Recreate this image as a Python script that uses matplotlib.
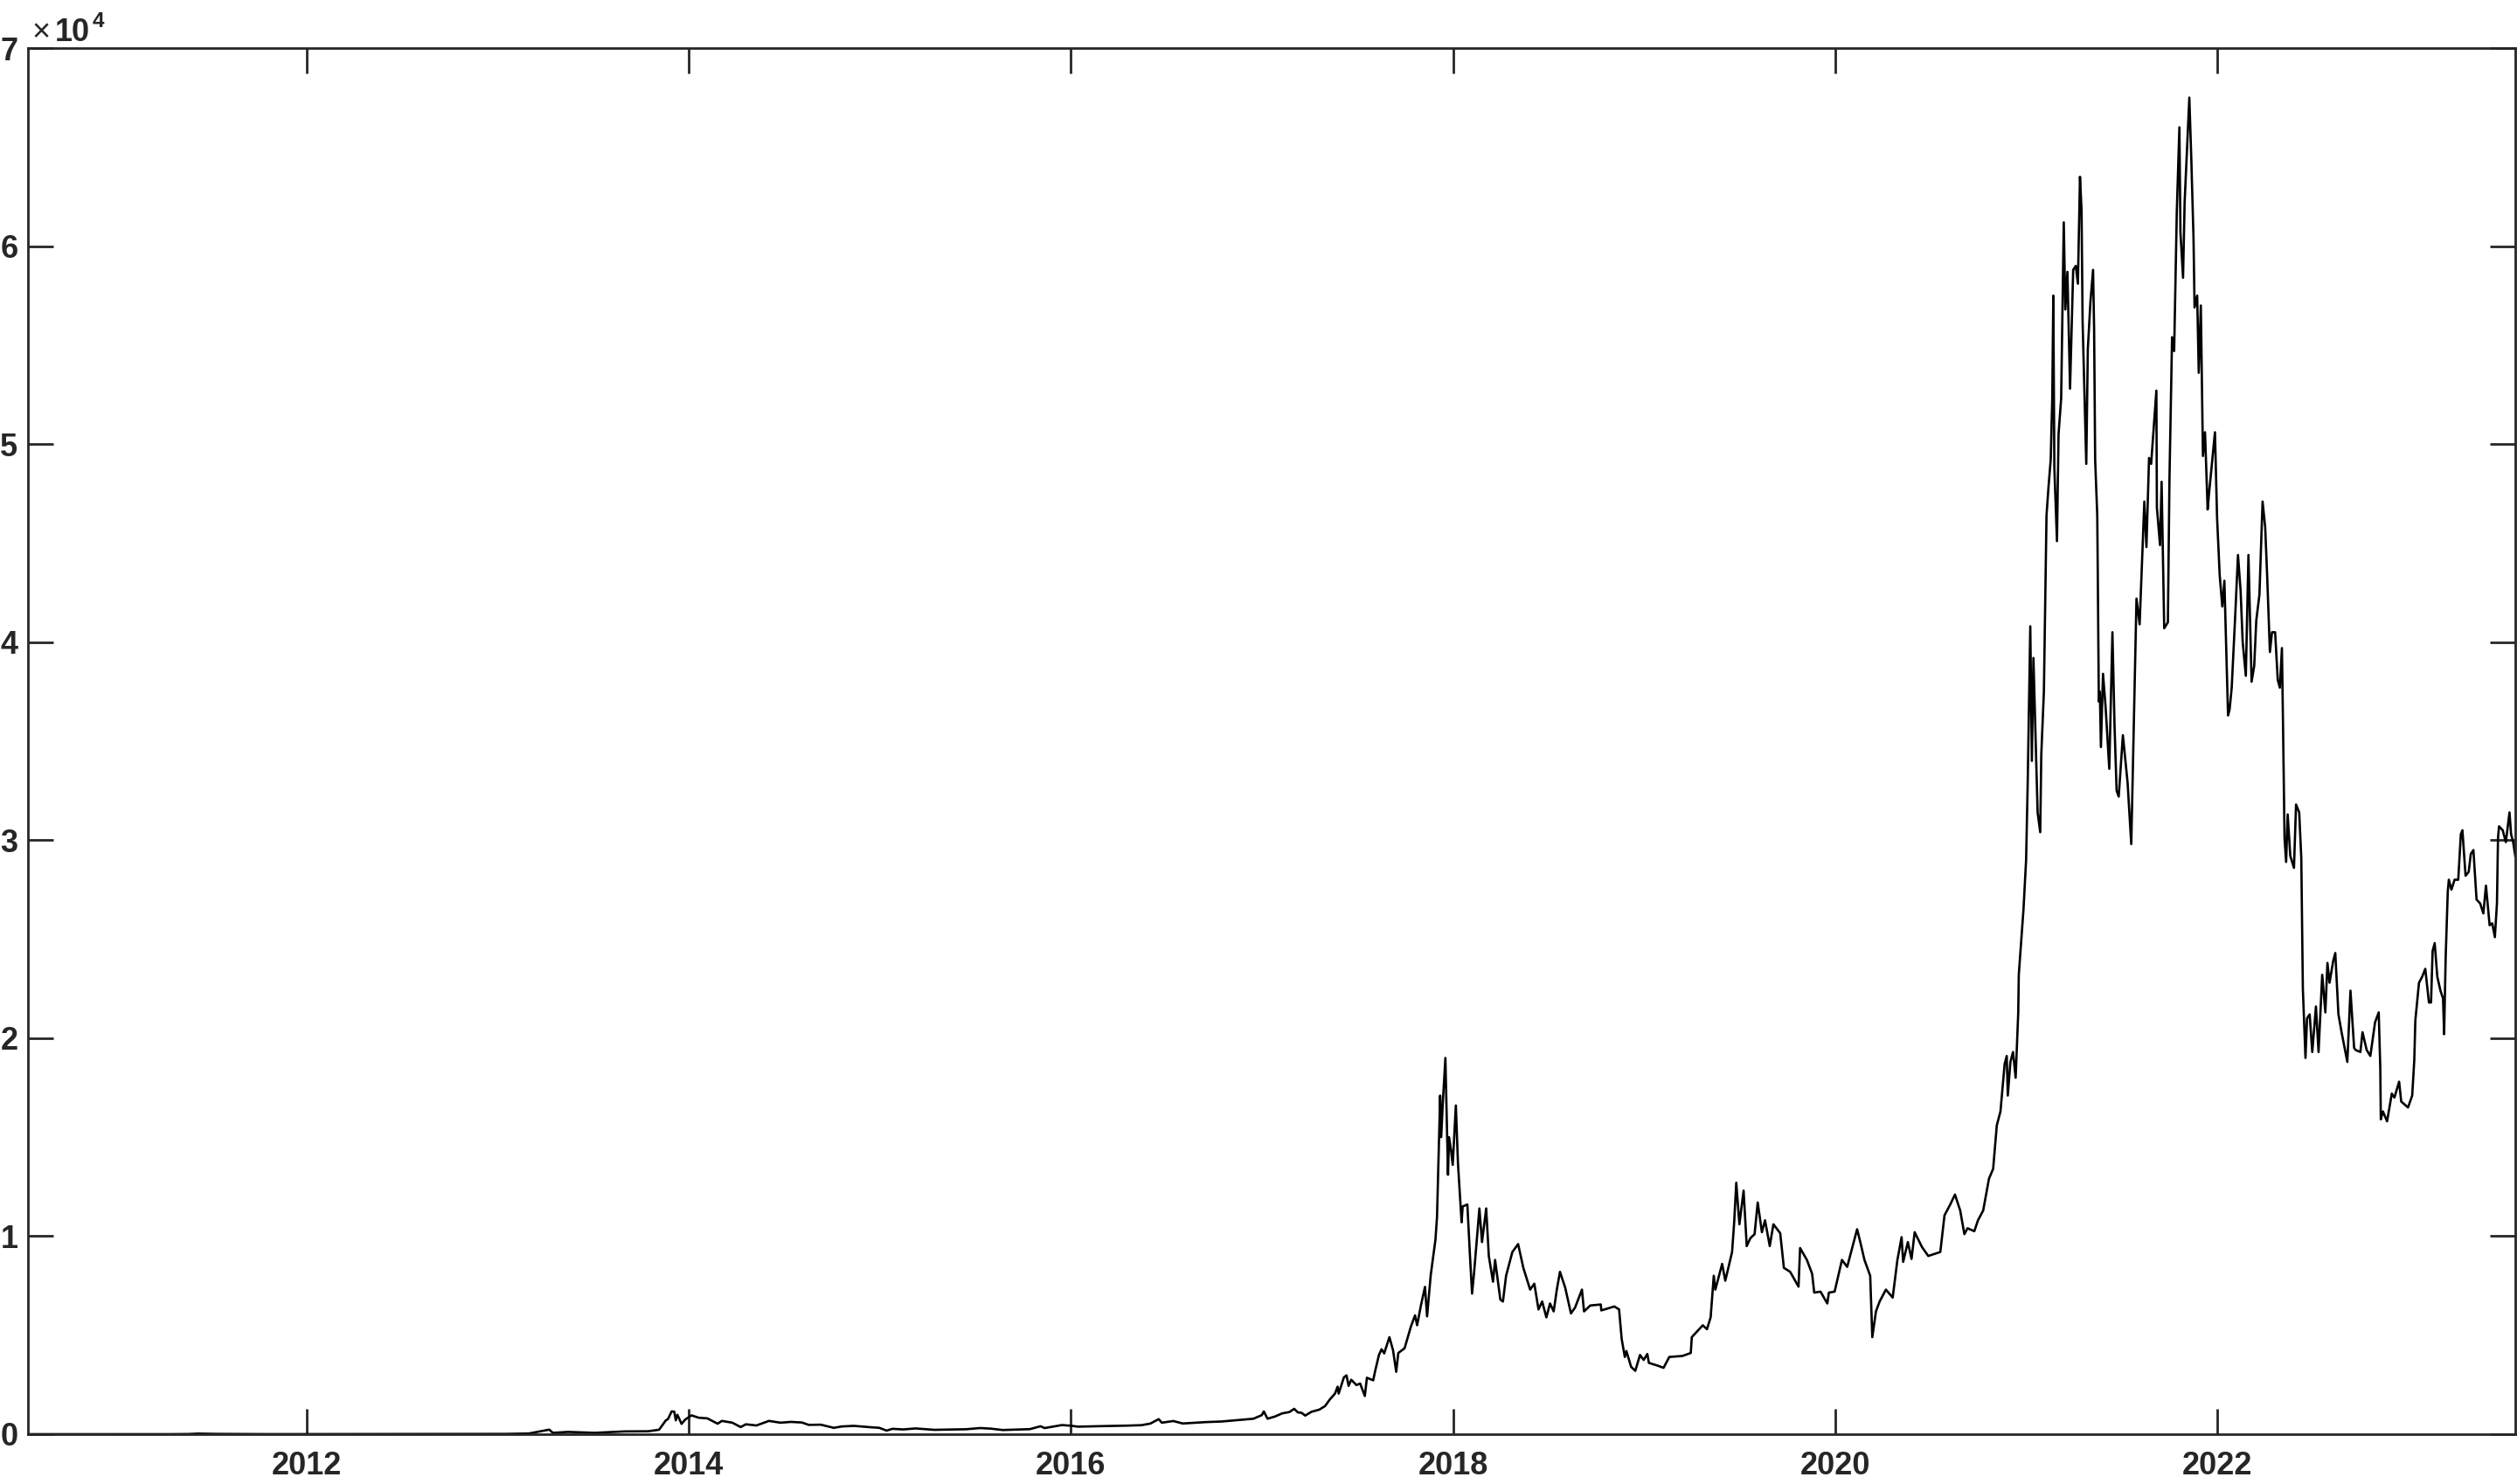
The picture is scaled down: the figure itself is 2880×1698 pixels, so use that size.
import numpy as np
import matplotlib
matplotlib.use('Agg')
import matplotlib.pyplot as plt
import matplotlib.dates as mdates

# Bitcoin close price (USD)
y2010 = [("2010-07-17", 0.05), ("2010-09-15", 0.06), ("2010-11-06", 0.39), ("2010-12-31", 0.30)]
y2011 = [("2011-02-10", 1.0), ("2011-04-15", 1.0), ("2011-05-20", 7), ("2011-06-08", 29.6),
         ("2011-07-15", 14), ("2011-09-01", 8), ("2011-10-20", 2.3), ("2011-12-31", 4.7)]
y2012 = [("2012-01-10", 6.8), ("2012-03-15", 4.8), ("2012-06-15", 6.5), ("2012-08-16", 13.5),
         ("2012-10-15", 11.8), ("2012-12-31", 13.5)]
y2013 = [("2013-01-15", 14), ("2013-03-01", 34), ("2013-04-09", 230), ("2013-04-16", 68),
         ("2013-05-15", 115), ("2013-07-05", 68), ("2013-08-31", 140), ("2013-10-15", 147),
         ("2013-11-05", 225), ("2013-11-18", 700), ("2013-11-22", 760), ("2013-11-29", 1150),
         ("2013-12-04", 1140), ("2013-12-07", 700), ("2013-12-10", 980), ("2013-12-18", 520),
         ("2013-12-25", 740)]
y2014 = [("2014-01-06", 950), ("2014-01-20", 830), ("2014-02-05", 800), ("2014-02-25", 530),
         ("2014-03-05", 670), ("2014-03-25", 580), ("2014-04-10", 360), ("2014-04-20", 500),
         ("2014-05-10", 440), ("2014-06-03", 670), ("2014-06-25", 580), ("2014-07-15", 620),
         ("2014-08-05", 590), ("2014-08-18", 470), ("2014-09-10", 480), ("2014-10-05", 320),
         ("2014-10-20", 390), ("2014-11-12", 420), ("2014-11-30", 380), ("2014-12-15", 350),
         ("2014-12-31", 320)]
y2015 = [("2015-01-14", 180), ("2015-01-25", 270), ("2015-02-15", 240), ("2015-03-10", 290),
         ("2015-04-15", 220), ("2015-05-15", 237), ("2015-06-15", 250), ("2015-07-12", 310),
         ("2015-08-01", 280), ("2015-08-24", 210), ("2015-09-15", 230), ("2015-10-15", 255),
         ("2015-11-04", 400), ("2015-11-12", 310), ("2015-12-15", 460), ("2015-12-31", 430)]
y2016 = [("2016-01-15", 380), ("2016-02-15", 400), ("2016-03-15", 415), ("2016-04-15", 430),
         ("2016-05-15", 455), ("2016-06-01", 535), ("2016-06-17", 760), ("2016-06-23", 580),
         ("2016-07-15", 665), ("2016-08-02", 540), ("2016-09-15", 610), ("2016-10-15", 640),
         ("2016-11-15", 710), ("2016-12-15", 780), ("2016-12-31", 960)]
y2017 = [("2017-01-04", 1150), ("2017-01-11", 780), ("2017-01-25", 890), ("2017-02-08", 1050),
         ("2017-02-22", 1120), ("2017-03-03", 1280), ("2017-03-10", 1100), ("2017-03-17", 1080),
         ("2017-03-24", 940), ("2017-04-05", 1130), ("2017-04-20", 1240), ("2017-05-01", 1420),
         ("2017-05-10", 1750), ("2017-05-20", 2050), ("2017-05-25", 2400), ("2017-05-27", 2050),
         ("2017-06-06", 2870), ("2017-06-11", 2970), ("2017-06-15", 2440), ("2017-06-20", 2750),
         ("2017-06-30", 2480), ("2017-07-07", 2560), ("2017-07-16", 1930), ("2017-07-20", 2850),
         ("2017-08-01", 2720), ("2017-08-05", 3220), ("2017-08-12", 4000), ("2017-08-17", 4290),
         ("2017-08-22", 4080), ("2017-09-01", 4900), ("2017-09-08", 4230), ("2017-09-14", 3150),
         ("2017-09-18", 4100), ("2017-09-30", 4340), ("2017-10-12", 5430), ("2017-10-20", 6000),
         ("2017-10-24", 5500), ("2017-10-31", 6470), ("2017-11-08", 7440), ("2017-11-12", 5950),
         ("2017-11-19", 8040), ("2017-11-28", 9820), ("2017-12-01", 10980), ("2017-12-07", 17100),
         ("2017-12-09", 15000), ("2017-12-12", 16700), ("2017-12-17", 19000), ("2017-12-22", 13100),
         ("2017-12-24", 15000), ("2017-12-28", 14300), ("2017-12-31", 13600)]
y2018 = [("2018-01-06", 16600), ("2018-01-10", 13700), ("2018-01-17", 10700), ("2018-01-19", 11500),
         ("2018-01-28", 11600), ("2018-02-02", 9000), ("2018-02-06", 7100), ("2018-02-10", 8200),
         ("2018-02-20", 11400), ("2018-02-25", 9700), ("2018-03-05", 11400), ("2018-03-10", 9000),
         ("2018-03-18", 7700), ("2018-03-22", 8800), ("2018-04-01", 6800), ("2018-04-06", 6700),
         ("2018-04-12", 8000), ("2018-04-24", 9200), ("2018-05-05", 9600), ("2018-05-15", 8400),
         ("2018-05-28", 7300), ("2018-06-05", 7600), ("2018-06-13", 6300), ("2018-06-20", 6700),
         ("2018-06-28", 5900), ("2018-07-05", 6600), ("2018-07-12", 6200), ("2018-07-18", 7300),
         ("2018-07-24", 8200), ("2018-08-03", 7400), ("2018-08-14", 6100), ("2018-08-22", 6400),
         ("2018-09-04", 7300), ("2018-09-08", 6200), ("2018-09-20", 6500), ("2018-10-10", 6550),
         ("2018-10-11", 6250), ("2018-11-05", 6450), ("2018-11-14", 6300), ("2018-11-19", 4800),
         ("2018-11-25", 3900), ("2018-11-28", 4200), ("2018-12-07", 3400), ("2018-12-15", 3200),
         ("2018-12-24", 4000), ("2018-12-31", 3750)]
y2019 = [("2019-01-07", 4050), ("2019-01-10", 3600), ("2019-01-28", 3450), ("2019-02-07", 3350),
         ("2019-02-18", 3900), ("2019-03-15", 3950), ("2019-03-31", 4100), ("2019-04-02", 4900),
         ("2019-04-23", 5500), ("2019-05-01", 5300), ("2019-05-08", 5900), ("2019-05-14", 8000),
         ("2019-05-17", 7300), ("2019-05-30", 8600), ("2019-06-05", 7750), ("2019-06-18", 9200),
         ("2019-06-22", 10700), ("2019-06-26", 12700), ("2019-07-02", 10600), ("2019-07-10", 12300),
         ("2019-07-16", 9500), ("2019-07-23", 9900), ("2019-07-31", 10100), ("2019-08-06", 11700),
         ("2019-08-14", 10200), ("2019-08-20", 10800), ("2019-08-29", 9500), ("2019-09-05", 10600),
         ("2019-09-18", 10150), ("2019-09-25", 8400), ("2019-10-07", 8200), ("2019-10-23", 7450),
         ("2019-10-26", 9400), ("2019-11-08", 8800), ("2019-11-18", 8100), ("2019-11-22", 7150),
         ("2019-12-04", 7200), ("2019-12-17", 6600), ("2019-12-20", 7150), ("2019-12-31", 7200)]
y2020 = [("2020-01-14", 8800), ("2020-01-24", 8450), ("2020-02-12", 10350), ("2020-02-19", 9600),
         ("2020-02-26", 8800), ("2020-03-08", 8000), ("2020-03-12", 4900), ("2020-03-19", 6200),
         ("2020-03-26", 6700), ("2020-04-07", 7300), ("2020-04-20", 6900), ("2020-04-29", 8800),
         ("2020-05-07", 9950), ("2020-05-10", 8700), ("2020-05-19", 9700), ("2020-05-26", 8850),
         ("2020-06-01", 10200), ("2020-06-15", 9450), ("2020-06-27", 9000), ("2020-07-20", 9200),
         ("2020-07-28", 11050), ("2020-08-08", 11600), ("2020-08-17", 12100), ("2020-08-27", 11300),
         ("2020-09-04", 10100), ("2020-09-10", 10400), ("2020-09-23", 10250), ("2020-09-30", 10800),
         ("2020-10-10", 11300), ("2020-10-21", 12900), ("2020-10-29", 13400), ("2020-11-05", 15600),
         ("2020-11-12", 16300), ("2020-11-20", 18700), ("2020-11-24", 19100), ("2020-11-26", 17100),
         ("2020-12-01", 18800), ("2020-12-06", 19300), ("2020-12-11", 18000), ("2020-12-16", 21300),
         ("2020-12-17", 23200), ("2020-12-26", 26500), ("2020-12-31", 29000)]
y2021 = [("2021-01-03", 32800), ("2021-01-08", 40800), ("2021-01-11", 34000), ("2021-01-14", 39200),
         ("2021-01-22", 31400), ("2021-01-27", 30400), ("2021-01-29", 34300), ("2021-02-03", 37500),
         ("2021-02-08", 46400), ("2021-02-12", 47900), ("2021-02-16", 49200), ("2021-02-19", 52300),
         ("2021-02-21", 57500), ("2021-02-23", 48800), ("2021-02-28", 45100), ("2021-03-03", 50500),
         ("2021-03-08", 52300), ("2021-03-13", 61200), ("2021-03-16", 56800), ("2021-03-20", 58700),
         ("2021-03-25", 52800), ("2021-03-31", 58800), ("2021-04-05", 59000), ("2021-04-09", 58100),
         ("2021-04-13", 63500), ("2021-04-16", 61800), ("2021-04-18", 56200), ("2021-04-25", 49000),
         ("2021-04-28", 54800), ("2021-05-03", 57200), ("2021-05-08", 58800), ("2021-05-10", 55800),
         ("2021-05-12", 49200), ("2021-05-16", 46400), ("2021-05-17", 43500), ("2021-05-19", 37000),
         ("2021-05-21", 37500), ("2021-05-23", 34700), ("2021-05-27", 38400), ("2021-06-01", 36700),
         ("2021-06-08", 33600), ("2021-06-14", 40500), ("2021-06-18", 35800), ("2021-06-22", 32500),
         ("2021-06-26", 32200), ("2021-07-04", 35300), ("2021-07-13", 32900), ("2021-07-20", 29800),
         ("2021-07-26", 37300), ("2021-07-30", 42200), ("2021-08-05", 40900), ("2021-08-14", 47100),
         ("2021-08-18", 44800), ("2021-08-23", 49300), ("2021-08-27", 49000), ("2021-09-06", 52700),
         ("2021-09-07", 46800), ("2021-09-13", 44900), ("2021-09-16", 48100), ("2021-09-21", 40700),
         ("2021-09-28", 41000), ("2021-10-01", 48200), ("2021-10-06", 55400), ("2021-10-10", 54700),
         ("2021-10-15", 61700), ("2021-10-20", 66000), ("2021-10-22", 60700), ("2021-10-27", 58400),
         ("2021-10-30", 62200), ("2021-11-08", 67500), ("2021-11-12", 64200), ("2021-11-16", 60400),
         ("2021-11-18", 56900), ("2021-11-23", 57500), ("2021-11-26", 53600), ("2021-11-30", 57000),
         ("2021-12-04", 49400), ("2021-12-08", 50600), ("2021-12-13", 46700), ("2021-12-16", 47600),
         ("2021-12-27", 50600), ("2021-12-31", 46300)]
y2022 = [("2022-01-05", 43400), ("2022-01-10", 41800), ("2022-01-14", 43100), ("2022-01-21", 36300),
         ("2022-01-24", 36600), ("2022-01-28", 37700), ("2022-02-04", 41500), ("2022-02-09", 44400),
         ("2022-02-14", 42600), ("2022-02-18", 40000), ("2022-02-24", 38300), ("2022-03-01", 44400),
         ("2022-03-07", 38000), ("2022-03-12", 38800), ("2022-03-16", 41100), ("2022-03-22", 42400),
         ("2022-03-28", 47100), ("2022-04-02", 45800), ("2022-04-06", 43200), ("2022-04-11", 39500),
         ("2022-04-15", 40500), ("2022-04-21", 40500), ("2022-04-26", 38100), ("2022-04-30", 37700),
         ("2022-05-04", 39700), ("2022-05-06", 36000), ("2022-05-09", 30100), ("2022-05-12", 28900),
         ("2022-05-15", 31300), ("2022-05-20", 29200), ("2022-05-27", 28600), ("2022-05-31", 31800),
         ("2022-06-06", 31400), ("2022-06-10", 29100), ("2022-06-13", 22500), ("2022-06-18", 19000),
         ("2022-06-21", 21000), ("2022-06-26", 21200), ("2022-07-01", 19300), ("2022-07-08", 21600),
         ("2022-07-13", 19300), ("2022-07-20", 23200), ("2022-07-26", 21300), ("2022-07-30", 23800),
         ("2022-08-03", 22800), ("2022-08-10", 23900), ("2022-08-14", 24300), ("2022-08-20", 21200),
         ("2022-08-26", 20300), ("2022-09-06", 18800), ("2022-09-12", 22400), ("2022-09-19", 19500),
         ("2022-09-22", 19400), ("2022-10-01", 19300), ("2022-10-05", 20300), ("2022-10-13", 19400),
         ("2022-10-20", 19100), ("2022-10-29", 20800), ("2022-11-05", 21300), ("2022-11-08", 18500),
         ("2022-11-09", 15900), ("2022-11-13", 16300), ("2022-11-21", 15800), ("2022-11-30", 17200),
         ("2022-12-05", 17000), ("2022-12-14", 17800), ("2022-12-18", 16800), ("2022-12-31", 16500)]
y2023 = [("2023-01-08", 17100), ("2023-01-12", 18900), ("2023-01-14", 20900), ("2023-01-21", 22800),
         ("2023-01-27", 23100), ("2023-02-02", 23500), ("2023-02-09", 21800), ("2023-02-13", 21800),
         ("2023-02-16", 24400), ("2023-02-20", 24800), ("2023-02-25", 23100), ("2023-03-03", 22400),
         ("2023-03-08", 22000), ("2023-03-10", 20200), ("2023-03-13", 24100), ("2023-03-17", 27400),
         ("2023-03-19", 28000), ("2023-03-24", 27500), ("2023-03-30", 28000), ("2023-04-06", 28000),
         ("2023-04-11", 30300), ("2023-04-14", 30500), ("2023-04-20", 28200), ("2023-04-26", 28400),
         ("2023-04-30", 29300), ("2023-05-05", 29500), ("2023-05-11", 27000), ("2023-05-18", 26800),
         ("2023-05-24", 26300), ("2023-05-29", 27700), ("2023-06-05", 25700), ("2023-06-10", 25800),
         ("2023-06-15", 25100), ("2023-06-19", 26800), ("2023-06-21", 30100), ("2023-06-23", 30700),
         ("2023-06-30", 30500), ("2023-07-06", 29900), ("2023-07-13", 31400), ("2023-07-16", 30300),
         ("2023-07-20", 29900), ("2023-07-24", 29200)]

year_ticks = [2012, 2014, 2016, 2018, 2020, 2022]
y_ticks = [0, 10000, 20000, 30000, 40000, 50000, 60000, 70000]
y_tick_labels = ['0', '1', '2', '3', '4', '5', '6', '7']

rows = y2010 + y2011 + y2012 + y2013 + y2014 + y2015 + y2016 + y2017 + y2018 + y2019 + y2020 + y2021 + y2022 + y2023
dates = np.array([np.datetime64(d) for d, _ in rows])
prices = np.array([p for _, p in rows], dtype=float)

plt.rcParams['font.family'] = ['Liberation Sans', 'DejaVu Sans']
ink = '#262626'

fig = plt.figure(figsize=(14.4, 8.49), dpi=200)
ax = fig.add_axes([0.01097, 0.03357, 0.98834, 0.93403])

ax.plot(dates, prices, color='black', linewidth=0.95)

ax.set_xlim(dates[0], dates[-1])
ax.set_ylim(0, 70000)
ax.set_xticks([np.datetime64(f'{y}-01-01') for y in year_ticks])
ax.xaxis.set_major_formatter(mdates.DateFormatter('%Y'))
ax.set_yticks(y_ticks)
ax.set_yticklabels(y_tick_labels)

for s in ax.spines.values():
    s.set_linewidth(1.0)
    s.set_color(ink)
ax.tick_params(axis='both', which='major', direction='in', length=10.5, width=1.0,
               color=ink, top=True, right=True, labelsize=13, labelcolor=ink)
ax.tick_params(axis='x', pad=7)
ax.tick_params(axis='y', pad=4)
for lbl in ax.get_xticklabels() + ax.get_yticklabels():
    lbl.set_fontweight('bold')

# exponent label (x10^4) above the top-left corner, MATLAB style
anno = dict(xy=(0, 1), xycoords='axes fraction', textcoords='offset points',
            ha='left', va='baseline', color=ink)
ax.annotate('\u00d7', xytext=(1.9, 2.9), fontsize=13, **anno)
ax.annotate('10', xytext=(11.2, 2.9), fontsize=13, fontweight='bold', **anno)
ax.annotate('4', xytext=(26.8, 8.6), fontsize=8.8, fontweight='bold', **anno)

fig.savefig('out.png', dpi=200)
